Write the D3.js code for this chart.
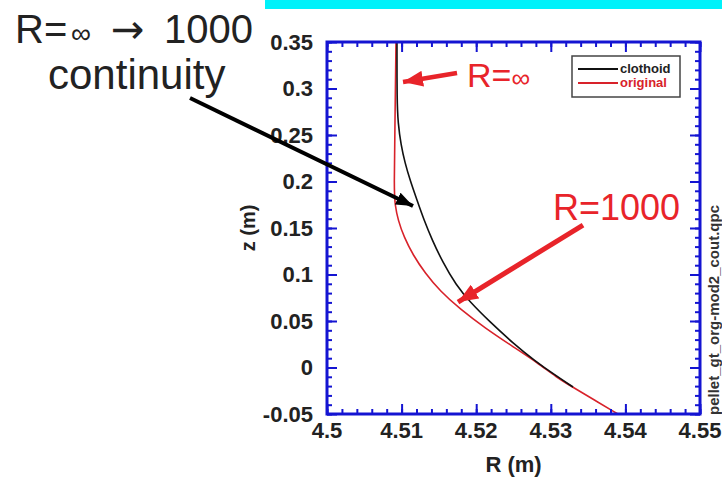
<!DOCTYPE html>
<html>
<head>
<meta charset="utf-8">
<script src="https://cdn.jsdelivr.net/npm/d3@7"></script>
<style>
  html, body { margin: 0; padding: 0; background: #fff; }
  svg { display: block; font-family: "Liberation Sans", Arial, sans-serif; }
</style>
</head>
<body>
<svg id="chart" width="722" height="479"></svg>
<script>
// ---- data (R in m, z in m) ----
const clothoidR = [4.50938, 4.50938, 4.50952, 4.50992, 4.51046, 4.51113, 4.51206, 4.51300, 4.51410, 4.51550, 4.51729, 4.51917, 4.52185, 4.52493, 4.52788, 4.53056, 4.53298];
const clothoidZ = [0.35, 0.2876, 0.2629, 0.2392, 0.2199, 0.2016, 0.1801, 0.1586, 0.1371, 0.1134, 0.0887, 0.0704, 0.0489, 0.0263, 0.0070, -0.0081, -0.0210];

const originalR = [4.50925, 4.50912, 4.50898, 4.50912, 4.50952, 4.51032, 4.51153, 4.51314, 4.51515, 4.51783, 4.52118, 4.5248, 4.52828, 4.5307, 4.53311, 4.53606, 4.539];
const originalZ = [0.35, 0.2661, 0.1909, 0.1747, 0.1586, 0.1403, 0.1210, 0.1016, 0.0823, 0.0629, 0.0425, 0.0231, 0.0048, -0.0102, -0.0220, -0.0360, -0.05];

const xTicks = [4.5, 4.51, 4.52, 4.53, 4.54, 4.55];
const xTickLabels = ["4.5", "4.51", "4.52", "4.53", "4.54", "4.55"];
const yTicks = [0.35, 0.3, 0.25, 0.2, 0.15, 0.1, 0.05, 0, -0.05];
const yTickLabels = ["0.35", "0.3", "0.25", "0.2", "0.15", "0.1", "0.05", "0", "-0.05"];

const seriesNames = ["clothoid", "original"];

// annotation arrows: [R0, z0, R1, z1] start -> tip
const arrowContinuity = [4.48164, 0.2898, 4.51153, 0.1737];
const arrowInf = [4.51743, 0.3167, 4.51019, 0.307];
const arrow1000 = [4.53432, 0.1532, 4.51756, 0.0704];

// ---- layout ----
const svg = d3.select("#chart");
const m = { left: 327, right: 700, top: 42, bottom: 414 };

const x = d3.scaleLinear().domain([4.5, 4.55]).range([m.left, m.right]);
const y = d3.scaleLinear().domain([-0.05, 0.35]).range([m.bottom, m.top]);

const BLUE = "#1414d2";
const RED = "#d8222a";
const ANN_RED = "#e8242a";

// cyan strip at top
svg.append("rect").attr("x", 265).attr("y", 0).attr("width", 457).attr("height", 9).attr("fill", "#00f2fa");

// markers
const defs = svg.append("defs");
function marker(id, color, len, wid) {
  defs.append("marker")
    .attr("id", id)
    .attr("markerUnits", "userSpaceOnUse")
    .attr("viewBox", `0 0 ${len} ${wid}`)
    .attr("refX", len).attr("refY", wid / 2)
    .attr("markerWidth", len).attr("markerHeight", wid)
    .attr("orient", "auto")
    .append("path")
    .attr("d", `M0,0L${len},${wid / 2}L0,${wid}Z`)
    .attr("fill", color);
}
marker("headBlack", "#000", 17, 13);
marker("headRed", ANN_RED, 20, 16);

// ---- curves ----
const curve = d3.line().x(d => x(d[0])).y(d => y(d[1])).curve(d3.curveBasis);

const g = svg.append("g");
defs.append("clipPath").attr("id", "plotClip").append("rect")
  .attr("x", m.left).attr("y", m.top).attr("width", m.right - m.left).attr("height", m.bottom - m.top);

g.append("path")
  .datum(originalR.map((r, i) => [r, originalZ[i]]))
  .attr("clip-path", "url(#plotClip)")
  .attr("fill", "none").attr("stroke", RED).attr("stroke-width", 1.6)
  .attr("d", curve);

g.append("path")
  .datum(clothoidR.map((r, i) => [r, clothoidZ[i]]))
  .attr("clip-path", "url(#plotClip)")
  .attr("fill", "none").attr("stroke", "#111").attr("stroke-width", 1.6)
  .attr("d", curve);

// ---- frame + ticks (inward, all four sides) ----
function ticks(axisFn, scale, values, size, transform) {
  svg.append("g")
    .attr("transform", transform)
    .call(axisFn(scale).tickValues(values).tickSize(size).tickFormat(""))
    .call(a => a.select(".domain").remove())
    .call(a => a.selectAll("line").attr("stroke", BLUE).attr("stroke-width", 2));
}
const xMinor = x.ticks(25);
const yMinor = y.ticks(40);

ticks(d3.axisBottom, x, xMinor, -5, `translate(0,${m.bottom})`);
ticks(d3.axisBottom, x, xTicks, -10, `translate(0,${m.bottom})`);
ticks(d3.axisTop, x, xMinor, -5, `translate(0,${m.top})`);
ticks(d3.axisTop, x, xTicks, -10, `translate(0,${m.top})`);
ticks(d3.axisLeft, y, yMinor, -5, `translate(${m.left},0)`);
ticks(d3.axisLeft, y, yTicks, -10, `translate(${m.left},0)`);
ticks(d3.axisRight, y, yMinor, -5, `translate(${m.right},0)`);
ticks(d3.axisRight, y, yTicks, -10, `translate(${m.right},0)`);

svg.append("rect")
  .attr("x", m.left).attr("y", m.top)
  .attr("width", m.right - m.left).attr("height", m.bottom - m.top)
  .attr("fill", "none").attr("stroke", BLUE).attr("stroke-width", 3);

// tick labels
svg.append("g").selectAll("text").data(xTicks).join("text")
  .attr("x", d => x(d)).attr("y", m.bottom + 24)
  .attr("text-anchor", "middle")
  .attr("font-size", 22).attr("font-weight", "bold").attr("fill", "#222")
  .text((d, i) => xTickLabels[i]);

svg.append("g").selectAll("text").data(yTicks).join("text")
  .attr("x", m.left - 14).attr("y", d => y(d)).attr("dy", "0.36em")
  .attr("text-anchor", "end")
  .attr("font-size", 22).attr("font-weight", "bold").attr("fill", "#222")
  .text((d, i) => yTickLabels[i]);

// axis titles
svg.append("text")
  .attr("x", (m.left + m.right) / 2).attr("y", 472)
  .attr("text-anchor", "middle")
  .attr("font-size", 22).attr("font-weight", "bold").attr("fill", "#222")
  .text("R (m)");

svg.append("text")
  .attr("transform", `translate(255,228) rotate(-90)`)
  .attr("text-anchor", "middle")
  .attr("font-size", 20).attr("font-weight", "bold").attr("fill", "#222")
  .text("z (m)");

svg.append("text")
  .attr("transform", `translate(719,415) rotate(-90)`)
  .attr("text-anchor", "start")
  .attr("font-size", 15).attr("font-weight", "bold").attr("fill", "#333")
  .text("pellet_gt_org-mod2_cout.qpc");

// legend
const legend = svg.append("g").attr("transform", "translate(572,56)");
legend.append("rect").attr("width", 108).attr("height", 41)
  .attr("fill", "#fff").attr("stroke", "#444").attr("stroke-width", 1.5);
const legColors = ["#111", RED];
seriesNames.forEach((name, i) => {
  legend.append("line")
    .attr("x1", 6).attr("x2", 46).attr("y1", 13 + i * 14).attr("y2", 13 + i * 14)
    .attr("stroke", legColors[i]).attr("stroke-width", 2);
  legend.append("text")
    .attr("x", 48).attr("y", 17 + i * 14)
    .attr("font-size", 13).attr("font-weight", "bold")
    .attr("fill", i === 0 ? "#222" : RED)
    .text(name);
});

// ---- annotations ----
function arrow(a, color, width, head) {
  svg.append("line")
    .attr("x1", x(a[0])).attr("y1", y(a[1]))
    .attr("x2", x(a[2])).attr("y2", y(a[3]))
    .attr("stroke", color).attr("stroke-width", width)
    .attr("marker-end", `url(#${head})`);
}
arrow(arrowContinuity, "#000", 4, "headBlack");
arrow(arrowInf, ANN_RED, 4.5, "headRed");
arrow(arrow1000, ANN_RED, 5, "headRed");

const tInf = svg.append("text").attr("x", 467).attr("y", 87)
  .attr("font-size", 34).attr("fill", ANN_RED);
tInf.append("tspan").text("R=");
tInf.append("tspan").attr("font-size", 26).text("∞");

svg.append("text").attr("x", 553).attr("y", 220)
  .attr("font-size", 36).attr("fill", ANN_RED).text("R=1000");

const tTop = svg.append("text").attr("y", 43)
  .attr("font-size", 40).attr("fill", "#222");
tTop.append("tspan").attr("x", 15).text("R=");
tTop.append("tspan").attr("x", 71).attr("font-size", 28).text("∞");
tTop.append("tspan").attr("x", 111).attr("font-family", "DejaVu Sans").attr("font-size", 40).text("→");
tTop.append("tspan").attr("x", 164).text("1000");

svg.append("text").attr("x", 48).attr("y", 89)
  .attr("font-size", 42).attr("fill", "#222").text("continuity");
</script>
</body>
</html>
